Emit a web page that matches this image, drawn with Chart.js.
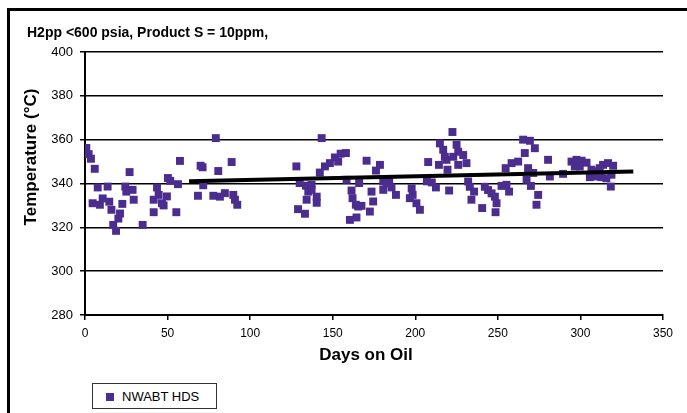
<!DOCTYPE html>
<html>
<head>
<meta charset="utf-8">
<script src="https://cdn.jsdelivr.net/npm/chart.js@4.4.1/dist/chart.umd.min.js"></script>
<style>
  html, body { margin: 0; padding: 0; background: #fff; overflow: hidden; }
  #wrap { position: relative; width: 687px; height: 413px; }
  #frame { position: absolute; left: 7px; top: 8px; width: 720px; height: 440px;
           border-top: 3px solid #000; border-left: 3px solid #000; pointer-events: none; }
  #legend { position: absolute; left: 92px; top: 383px; width: 125px; height: 26px;
            border: 1px solid #333; background: #fff; box-sizing: border-box;
            font: 13px "Liberation Sans", Arial, sans-serif; color: #000; }
  #legend .sw { position: absolute; left: 13px; top: 9px; width: 8px; height: 8px; background: #4B2D8F; }
  #legend .tx { position: absolute; left: 29px; top: 5px; white-space: nowrap; }
</style>
</head>
<body>
<div id="wrap">
  <canvas id="c" width="687" height="413"></canvas>
  <div id="frame"></div>
  <div id="legend"><span class="sw"></span><span class="tx">NWABT HDS</span></div>
</div>
<script>
// ---- data ----
const titleText = "H2pp <600 psia, Product S = 10ppm,";
const xTitle = "Days on Oil";
const yTitle = "Temperature (°C)";
const seriesName = "NWABT HDS";

const days = [
  0.8,2.2,3.6,5.9,7.7,4.6,9,10.7,13.7,14.7,16,17.1,18.8,20.2,21.2,22.6,24.4,25,27,28.8,29.5,34.9,
  41.6,41.6,43.6,44.6,46.6,47.6,49.6,50.2,51.6,55.3,56.3,57.5,
  70,71.2,71.6,68.4,79.2,80.7,77.7,81.7,84.7,88.8,89.8,90.8,92.2,
  128,130,129,133.8,135.2,137.2,137.2,134.2,140.3,140.3,133.2,
  143.3,142.2,145.3,148.3,151.3,153.3,154.8,158,158.4,161.4,162,164,165.4,167.4,160.4,164.4,166,170.5,173.5,174.5,172.5,176.2,178.6,180.6,184.2,180.6,185.6,188.3,182.6,
  197.8,198.4,196.7,200.7,202.8,
  207,210,212.5,220.5,
  207.8,214.3,214.9,216.9,217.9,218.9,219.5,222.5,223,225,226,226,229,231,
  232,233,235.6,234,
  240.5,242.1,244.1,246.2,248.2,249.2,248.6,252.2,255.2,256.8,254.7,258.3,262.3,265.3,269.4,272.4,266.3,268.3,267.4,271.4,270,274.4,273.4,
  280.4,281.5,289.5,294.6,297.6,300.7,303.7,296.6,299.6,305.7,308.7,306.7,309.7,312.7,315.7,313.7,316.7,319.8,311.7,318.8,318.4
];
const temps = [
  356.2,353.4,351.3,346.7,338.2,331,330.3,333.2,338.6,331.7,328,321.1,318.4,324,326.3,330.7,338.6,336.3,345.2,337.1,332.6,321.1,
  332.6,326.9,338.2,334.8,331,330,334.1,342.5,341.2,326.9,339.7,350.3,
  348.1,347.4,339.2,334.4,360.7,345.7,334.4,334,335.6,349.8,334.8,332.6,330.3,
  347.8,340.2,328.3,339,336.3,337.1,339.4,332.6,334,331.2,326.2,
  360.7,345,347.8,349.3,351.9,350,353.6,353.9,341.7,336.8,333.3,330.3,329.5,329.8,323.4,324.5,340.2,350.4,336.3,331.8,327.2,345.9,348.5,340.9,340.9,337.1,338.2,334.8,340,
  337.8,334.8,333.3,331,328,
  341,340.5,338.2,336.8,
  349.8,348.5,358.3,355.4,352.2,350.8,346.3,363.5,352.2,357.7,354.5,348.5,353,349.3,
  340.9,338.5,336.3,332.6,
  328.8,338.5,337,335.5,334,331,326.9,338.9,339.4,336.3,347,349.3,350,360,359.5,356.1,353.9,347,341.7,344.8,338.9,334.8,330.3,
  350.8,343.2,344.4,350,350.8,350.4,349.5,347.8,347.8,342.9,343.2,346.3,345.5,342.9,342.4,348.5,349.3,348.1,347,344,338.6
];
const trendDays = [63, 332];
const trendTemps = [341, 345.5];
const xTicks = [0, 50, 100, 150, 200, 250, 300, 350];
const yTicks = [280, 300, 320, 340, 360, 380, 400];

// ---- chart ----
const purple = '#4B2D8F';
const points = days.map((d, i) => ({ x: d, y: temps[i] }));
const trend = trendDays.map((d, i) => ({ x: d, y: trendTemps[i] }));

const textPlugin = {
  id: 'texts',
  afterDraw(chart) {
    const ctx = chart.ctx;
    ctx.save();
    ctx.fillStyle = '#000';
    ctx.font = 'bold 14px "Liberation Sans", Arial, sans-serif';
    ctx.textAlign = 'left';
    ctx.textBaseline = 'middle';
    ctx.fillText(titleText, 27, 33);
    ctx.font = 'bold 17px "Liberation Sans", Arial, sans-serif';
    ctx.textAlign = 'center';
    ctx.fillText(xTitle, 366, 355);
    ctx.translate(31, 157);
    ctx.rotate(-Math.PI / 2);
    ctx.fillText(yTitle, 0, 0);
    ctx.restore();
  }
};

new Chart(document.getElementById('c'), {
  type: 'scatter',
  data: {
    datasets: [
      {
        type: 'line',
        label: 'trend',
        data: trend,
        borderColor: '#000',
        borderWidth: 4,
        pointRadius: 0,
        fill: false,
        order: 0
      },
      {
        label: seriesName,
        data: points,
        pointStyle: 'rect',
        pointRadius: 5.6,
        backgroundColor: purple,
        borderColor: purple,
        borderWidth: 0,
        order: 1
      }
    ]
  },
  options: {
    responsive: false,
    animation: false,
    layout: { padding: { top: 52, right: 24, left: 0, bottom: 0 } },
    plugins: { legend: { display: false }, tooltip: { enabled: false }, title: { display: false } },
    scales: {
      x: {
        type: 'linear',
        min: 0, max: 350,
        afterBuildTicks(s) { s.ticks = xTicks.map(v => ({ value: v })); },
        afterFit(s) { s.height = 98; },
        ticks: { color: '#000', font: { family: '"Liberation Sans", Arial, sans-serif', size: 12 }, padding: 6, maxRotation: 0 },
        grid: { drawOnChartArea: false, drawTicks: true, tickLength: 5, color: '#000', lineWidth: 1.5 },
        border: { display: true, color: '#000', width: 2 }
      },
      y: {
        type: 'linear',
        min: 280, max: 400,
        afterBuildTicks(s) { s.ticks = yTicks.map(v => ({ value: v })); },
        afterFit(s) { s.width = 85; },
        ticks: { color: '#000', font: { family: '"Liberation Sans", Arial, sans-serif', size: 13 }, padding: 7 },
        grid: { drawOnChartArea: true, drawTicks: true, tickLength: 5, color: '#000', lineWidth: 1.5 },
        border: { display: true, color: '#000', width: 2 }
      }
    }
  },
  plugins: [textPlugin]
});
</script>
</body>
</html>
